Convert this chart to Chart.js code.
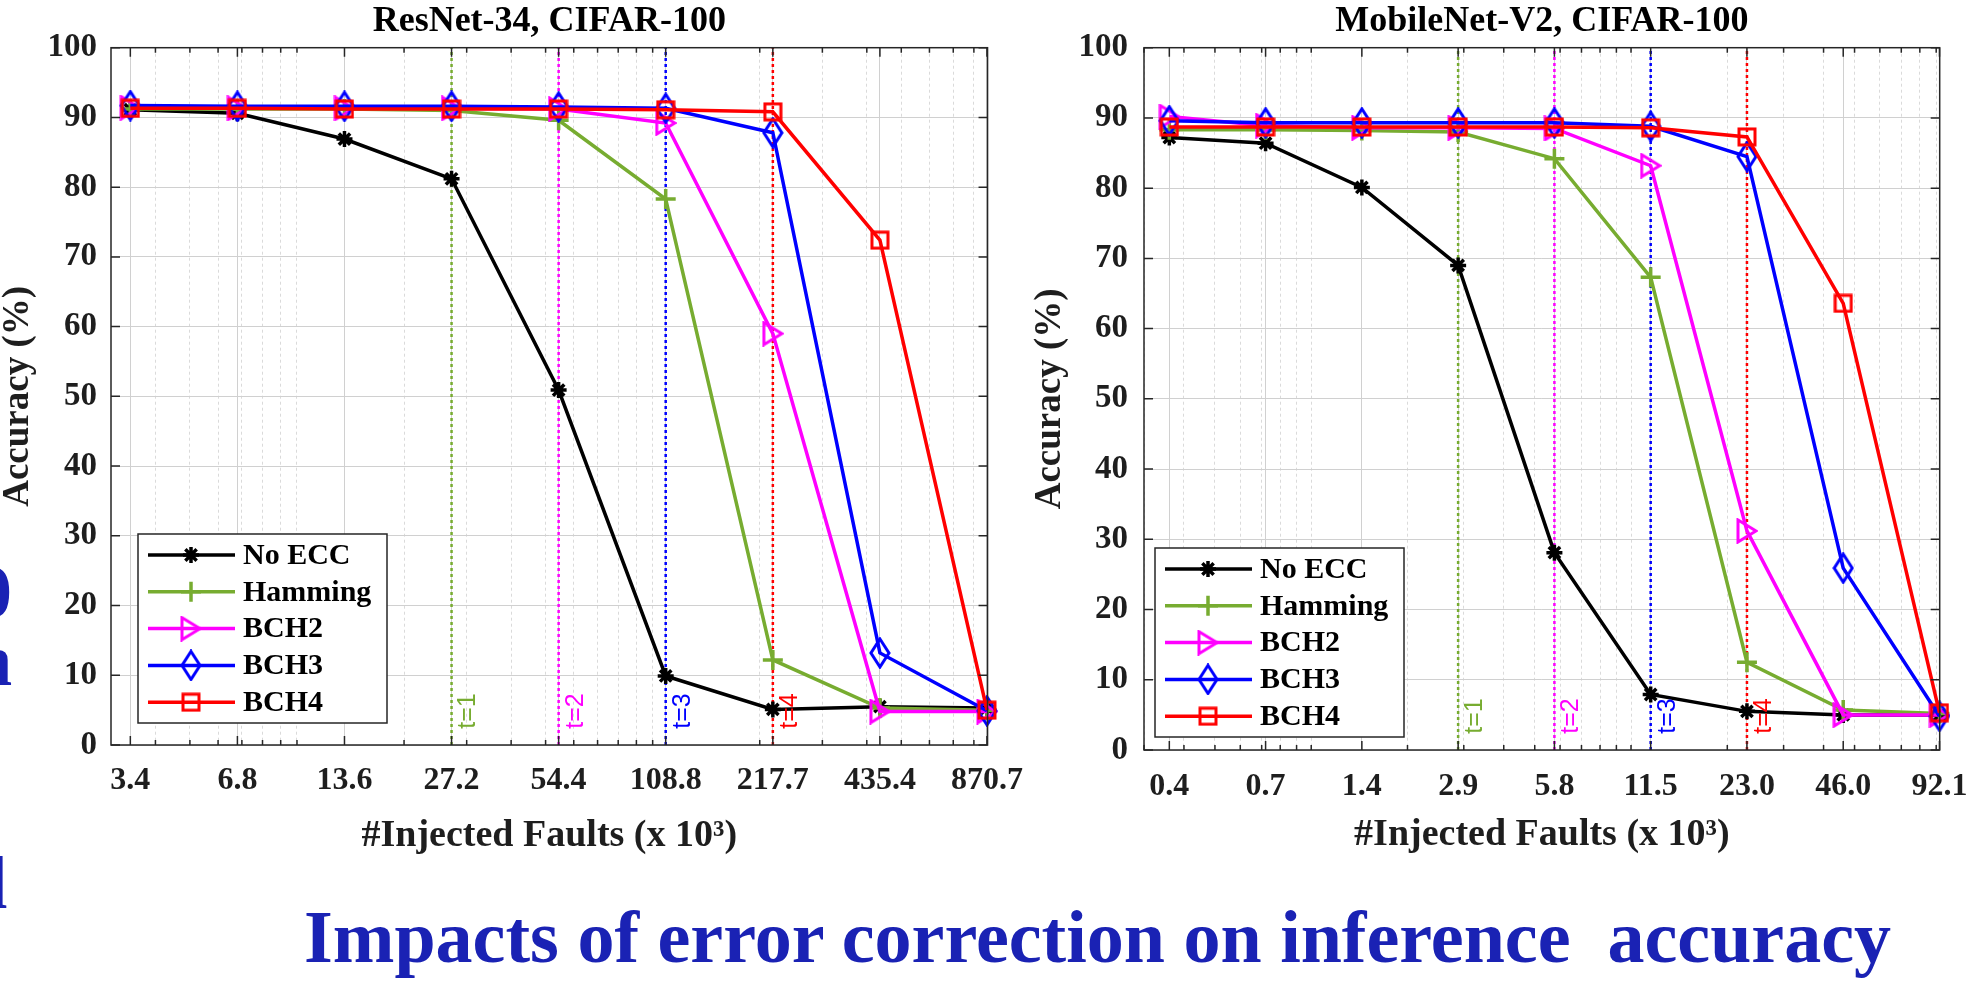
<!DOCTYPE html>
<html>
<head>
<meta charset="utf-8">
<script src="https://cdn.jsdelivr.net/npm/chart.js@4.4.0/dist/chart.umd.min.js"></script>
<style>
html, body { margin: 0; padding: 0; background: #fff; width: 1985px; height: 992px; overflow: hidden; position: relative; }
canvas { position: absolute; top: 0; }
#left-chart { left: 0; }
#right-chart { left: 1000px; }
.big { position: absolute; font-family: "Liberation Serif", "Times New Roman", serif; font-weight: bold; color: #1a22b4; font-size: 74px; line-height: 1; white-space: pre; }
</style>
</head>
<body>
<canvas id="left-chart" width="1040" height="870"></canvas>
<canvas id="right-chart" width="985" height="870"></canvas>
<div class="big" style="left:-25px;top:555px">0</div>
<div class="big" style="left:-29px;top:623px">n</div>
<div class="big" style="left:-13px;top:846px">l</div>
<div class="big" style="left:304px;top:900px">Impacts of error correction on inference  accuracy</div>
<script>
// ---- data ----
const seriesNames = ['No ECC', 'Hamming', 'BCH2', 'BCH3', 'BCH4'];
const seriesColors = ['#000000', '#77ac30', '#ff00ff', '#0000ff', '#ff0000'];
const tLabels = ['t=1', 't=2', 't=3', 't=4'];
const tColors = ['#77ac30', '#ff00ff', '#0000ff', '#ff0000'];

const leftX = [3.4, 6.8, 13.6, 27.2, 54.4, 108.8, 217.7, 435.4, 870.7];
const leftXLabels = ['3.4', '6.8', '13.6', '27.2', '54.4', '108.8', '217.7', '435.4', '870.7'];
const leftNoEcc   = [91.1, 90.6, 86.9, 81.2, 50.9, 9.9, 5.1, 5.5, 5.3];
const leftHamming = [91.2, 91.2, 91.2, 91.0, 89.6, 78.3, 12.2, 5.3, 5.0];
const leftBch2    = [91.4, 91.3, 91.3, 91.3, 91.2, 89.2, 59.0, 4.8, 4.8];
const leftBch3    = [91.7, 91.6, 91.6, 91.6, 91.5, 91.3, 87.8, 13.2, 4.9];
const leftBch4    = [91.3, 91.3, 91.2, 91.2, 91.2, 91.1, 90.8, 72.4, 5.0];
const leftTX = [27.2, 54.4, 108.8, 217.7];

const rightX = [0.36, 0.72, 1.44, 2.88, 5.76, 11.52, 23.04, 46.08, 92.16];
const rightXLabels = ['0.4', '0.7', '1.4', '2.9', '5.8', '11.5', '23.0', '46.0', '92.1'];
const rightNoEcc   = [87.2, 86.4, 80.1, 69.0, 28.1, 7.9, 5.5, 5.0, 5.0];
const rightHamming = [88.3, 88.3, 88.2, 88.0, 84.2, 67.3, 12.5, 5.7, 5.2];
const rightBch2    = [90.2, 88.9, 88.6, 88.6, 88.5, 83.2, 31.2, 5.0, 5.0];
const rightBch3    = [89.6, 89.3, 89.3, 89.3, 89.3, 88.8, 84.5, 25.9, 4.8];
const rightBch4    = [88.7, 88.7, 88.7, 88.7, 88.7, 88.6, 87.3, 63.6, 5.3];
const rightTX = [2.88, 5.76, 11.52, 23.04];

const serif = '"Liberation Serif", "Times New Roman", serif';

// open matlab-like markers
function makeMarker(kind, color, w, h) {
    const c = document.createElement('canvas');
    c.width = w; c.height = h;
    const g = c.getContext('2d');
    g.strokeStyle = color; g.lineWidth = 3;
    g.beginPath();
    if (kind == 'tri') { g.moveTo(2, 2); g.lineTo(w - 2, h / 2); g.lineTo(2, h - 2); g.closePath(); }
    if (kind == 'dia') { g.moveTo(w / 2, 2); g.lineTo(w - 2, h / 2); g.lineTo(w / 2, h - 2); g.lineTo(2, h / 2); g.closePath(); }
    if (kind == 'sq') g.rect(2, 2, w - 4, h - 4);
    g.stroke();
    return c;
}
const pointStyles = ['star', 'cross', makeMarker('tri', '#ff00ff', 22, 26), makeMarker('dia', '#0000ff', 22, 32), makeMarker('sq', '#ff0000', 20, 20)];
const pointRadii = [8, 10, 10, 10, 10];

// box, inward ticks, t= labels and the boxed legend
const matlabFrame = {
    id: 'matlabFrame',
    afterDatasetsDraw(chart, args, o) {
        const {ctx, chartArea: a, scales: {x, y}} = chart;
        ctx.save();
        ctx.strokeStyle = '#262626'; ctx.lineWidth = 1.5; ctx.setLineDash([]);
        ctx.beginPath();
        x.ticks.forEach(t => {
            const px = x.getPixelForValue(t.value);
            const len = t.isMajor ? 9 : 5;
            ctx.moveTo(px, a.bottom); ctx.lineTo(px, a.bottom - len);
            ctx.moveTo(px, a.top); ctx.lineTo(px, a.top + len);
        });
        y.ticks.forEach(t => {
            const py = y.getPixelForValue(t.value);
            ctx.moveTo(a.left, py); ctx.lineTo(a.left + 9, py);
            ctx.moveTo(a.right, py); ctx.lineTo(a.right - 9, py);
        });
        ctx.stroke();
        ctx.strokeRect(a.left, a.top, a.right - a.left, a.bottom - a.top);

        chart.data.datasets.filter(d => d.tLine).forEach(d => {
            ctx.save();
            ctx.translate(x.getPixelForValue(d.data[0].x) + o.tOffset, a.bottom - 34);
            ctx.rotate(-Math.PI / 2);
            ctx.fillStyle = d.borderColor;
            ctx.font = '25px "Liberation Sans", Arial, sans-serif';
            ctx.textAlign = 'center'; ctx.textBaseline = 'middle';
            ctx.fillText(d.label, 0, 0);
            ctx.restore();
        });
        ctx.restore();
    },
    afterDraw(chart, args, o) {
        const {ctx, chartArea: a} = chart;
        const items = chart.data.datasets.filter(d => d.isSeries);
        const bw = 249, bh = 189;
        const bx = a.left + o.legendLeft, by = a.bottom - o.legendBottom - bh;
        ctx.save();
        ctx.setLineDash([]);
        ctx.fillStyle = '#fff'; ctx.fillRect(bx, by, bw, bh);
        ctx.strokeStyle = '#262626'; ctx.lineWidth = 1.5; ctx.strokeRect(bx, by, bw, bh);
        items.forEach((d, i) => {
            const cy = by + 21 + i * 36.8;
            ctx.strokeStyle = d.borderColor; ctx.lineWidth = 3.5;
            ctx.beginPath(); ctx.moveTo(bx + 10, cy); ctx.lineTo(bx + 97, cy); ctx.stroke();
            ctx.fillStyle = d.pointBackgroundColor; ctx.lineWidth = d.pointBorderWidth;
            Chart.helpers.drawPoint(ctx, {pointStyle: d.pointStyle, radius: d.pointRadius, borderWidth: d.pointBorderWidth, rotation: 0}, bx + 53, cy);
            ctx.fillStyle = '#000';
            ctx.font = 'bold 30px ' + serif;
            ctx.textAlign = 'left'; ctx.textBaseline = 'middle';
            ctx.fillText(d.label, bx + 105, cy + 1);
        });
        ctx.restore();
    }
};

function buildChart(id, c) {
    const datasets = [];
    c.series.forEach((vals, i) => datasets.push({
        label: seriesNames[i], isSeries: true,
        data: c.x.map((xv, j) => ({x: xv, y: vals[j]})),
        borderColor: seriesColors[i], backgroundColor: seriesColors[i], borderWidth: 3.5,
        pointStyle: pointStyles[i], pointRadius: pointRadii[i],
        pointBorderWidth: i < 2 ? 3.5 : 3, pointBorderColor: seriesColors[i],
        pointBackgroundColor: i < 2 ? seriesColors[i] : 'rgba(0,0,0,0)',
        order: 5 - i, clip: false, tension: 0
    }));
    c.tX.forEach((xv, i) => datasets.push({
        label: tLabels[i], tLine: true,
        data: [{x: xv, y: 0}, {x: xv, y: 100}],
        borderColor: tColors[i], borderWidth: 2.5, borderDash: [3, 3], pointRadius: 0, order: 10
    }));

    return new Chart(document.getElementById(id), {
        type: 'line',
        data: {datasets: datasets},
        plugins: [matlabFrame],
        options: {
            responsive: false, animation: false, events: [],
            layout: {padding: {left: 0, top: 0, right: c.padRight, bottom: 0}},
            plugins: {
                legend: {display: false}, tooltip: {enabled: false},
                title: {display: true, text: c.title, fullSize: false, color: '#000',
                        font: {family: serif, size: 36, weight: 'bold', lineHeight: 1.2}, padding: {top: 0, bottom: 4.5}},
                matlabFrame: {tOffset: 17, legendLeft: c.legendLeft, legendBottom: c.legendBottom}
            },
            scales: {
                x: {
                    type: 'logarithmic', min: c.xMin, max: c.xMax,
                    afterBuildTicks: s => {
                        const ticks = c.x.map((v, i) => ({value: v, isMajor: true, lbl: c.xLabels[i]}));
                        for (let e = Math.floor(Math.log10(s.min)); Math.pow(10, e) <= s.max; e++) {
                            for (let k = 1; k < 10; k++) {
                                const v = k * Math.pow(10, e);
                                if (v > s.min && v < s.max) ticks.push({value: v, isMajor: false});
                            }
                        }
                        ticks.sort((p, q) => p.value - q.value);
                        s.ticks = ticks;
                    },
                    afterFit: s => { s.height = c.xAxisH; },
                    ticks: {autoSkip: false, maxRotation: 0, minRotation: 0, padding: c.xTickPad, color: '#1e1e1e',
                            font: {family: serif, size: 32, weight: 'bold', lineHeight: 1.2},
                            callback: (v, i, t) => t[i].lbl || ''},
                    grid: {drawTicks: false, lineWidth: 1, color: ctx => (ctx.tick && ctx.tick.isMajor) ? '#d0d0d0' : '#dadada'},
                    border: {display: false, dash: ctx => (ctx.tick && !ctx.tick.isMajor) ? [3, 3] : []},
                    title: {display: true, text: '#Injected Faults (x 10\u00b3)', color: '#1e1e1e',
                            font: {family: serif, size: 38, weight: 'bold', lineHeight: 1.2}, padding: {top: 0, bottom: c.xTitlePad}}
                },
                y: {
                    min: 0, max: 100,
                    afterFit: s => { s.width = c.yAxisW; },
                    ticks: {stepSize: 10, padding: c.yTickPad, color: '#1e1e1e',
                            font: {family: serif, size: 33, weight: 'bold', lineHeight: 1.2}},
                    grid: {drawTicks: false, lineWidth: 1, color: '#d0d0d0'},
                    border: {display: false},
                    title: {display: true, text: 'Accuracy (%)', color: '#1e1e1e',
                            font: {family: serif, size: 37, weight: 'bold', lineHeight: 1}, padding: {top: c.yTitlePad, bottom: 0}}
                }
            }
        }
    });
}

buildChart('left-chart', {
    title: 'ResNet-34, CIFAR-100',
    x: leftX, xLabels: leftXLabels, tX: leftTX,
    series: [leftNoEcc, leftHamming, leftBch2, leftBch3, leftBch4],
    xMin: 3.0, xMax: 874,
    padRight: 48, xAxisH: 125, yAxisW: 111,
    xTickPad: 17, xTitlePad: 11, yTickPad: 14, yTitlePad: 0,
    legendLeft: 27, legendBottom: 22
});
buildChart('right-chart', {
    title: 'MobileNet-V2, CIFAR-100',
    x: rightX, xLabels: rightXLabels, tX: rightTX,
    series: [rightNoEcc, rightHamming, rightBch2, rightBch3, rightBch4],
    xMin: 0.305, xMax: 92.3,
    padRight: 32, xAxisH: 120, yAxisW: 144,
    xTickPad: 17.5, xTitlePad: 12, yTickPad: 16, yTitlePad: 32,
    legendLeft: 11, legendBottom: 13
});
</script>
</body>
</html>
